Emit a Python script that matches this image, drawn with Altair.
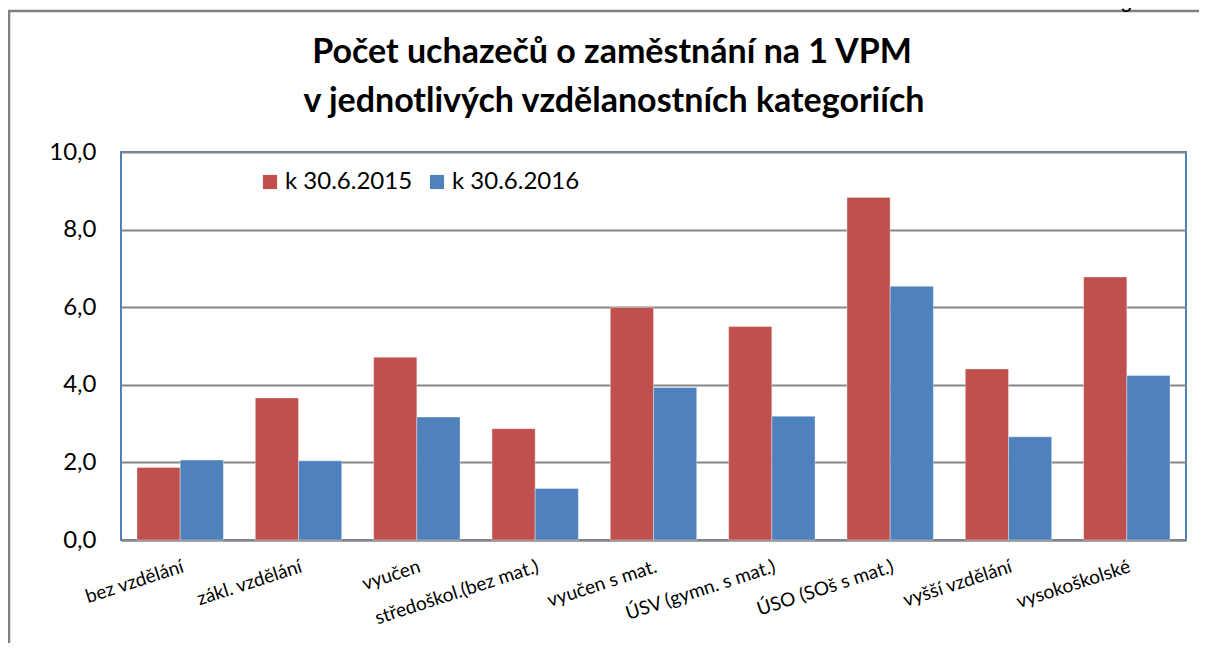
import altair as alt
import pandas as pd

categories = [
    "bez vzdělání",
    "zákl. vzdělání",
    "vyučen",
    "středoškol.(bez mat.)",
    "vyučen s mat.",
    "ÚSV (gymn. s mat.)",
    "ÚSO (SOš s mat.)",
    "vyšší vzdělání",
    "vysokoškolské",
]
series = ["k 30.6.2015", "k 30.6.2016"]
v2015 = [1.87, 3.66, 4.71, 2.87, 5.99, 5.50, 8.83, 4.41, 6.78]
v2016 = [2.06, 2.04, 3.17, 1.33, 3.93, 3.19, 6.54, 2.66, 4.24]
y_ticks = [0, 2, 4, 6, 8, 10]
title_line1 = "Počet uchazečů o zaměstnání na 1 VPM"
title_line2 = "v jednotlivých vzdělanostních kategoriích"
corner_note = "graf č. 17"

rows = []
for c, a, b in zip(categories, v2015, v2016):
    rows.append({"kat": c, "serie": series[0], "hodnota": a})
    rows.append({"kat": c, "serie": series[1], "hodnota": b})
df = pd.DataFrame(rows)

GREY = "#868686"
FONT = "Lato"
one = pd.DataFrame({"k": [0]})

frame_top = alt.Chart(one).mark_rule(color="#808080", strokeWidth=2.5).encode(
    x=alt.value(-113), x2=alt.value(1100), y=alt.value(-141)
)
frame_left = alt.Chart(one).mark_rule(color="#808080", strokeWidth=2.5).encode(
    x=alt.value(-112), y=alt.value(-142), y2=alt.value(520)
)

note = alt.Chart(pd.DataFrame({"t": [corner_note]})).mark_text(
    align="right", baseline="alphabetic", font="Arial", fontSize=22, color="black"
).encode(
    text="t:N", x=alt.value(1091), y=alt.value(-145)
)

title1 = alt.Chart(pd.DataFrame({"t": [title_line1]})).mark_text(
    align="center", baseline="middle", font=FONT, fontSize=34, fontWeight="bold", color="black"
).encode(text="t:N", x=alt.value(491), y=alt.value(-99))

title2 = alt.Chart(pd.DataFrame({"t": [title_line2]})).mark_text(
    align="center", baseline="middle", font=FONT, fontSize=34, fontWeight="bold", color="black"
).encode(text="t:N", x=alt.value(493), y=alt.value(-50))

bars = alt.Chart(df).mark_bar(stroke="white", strokeWidth=0.6, strokeOpacity=0.6).encode(
    x=alt.X(
        "kat:N",
        sort=categories,
        scale=alt.Scale(paddingInner=0.27, paddingOuter=0.135),
        axis=alt.Axis(
            title=None,
            labelAngle=-18,
            labelAlign="right",
            labelBaseline="top",
            labelFont=FONT,
            labelFontSize=19,
            labelColor="black",
            labelPadding=17,
            labelLimit=400,
            ticks=False,
            tickSize=0,
            domainColor=GREY,
            domainWidth=2,
        ),
    ),
    xOffset=alt.XOffset("serie:N", sort=series),
    y=alt.Y(
        "hodnota:Q",
        scale=alt.Scale(domain=[0, 10], nice=False),
        axis=alt.Axis(
            title=None,
            values=y_ticks,
            labelExpr="replace(format(datum.value, '.1f'), '.', ',')",
            labelFont=FONT,
            labelFontSize=24,
            labelColor="black",
            labelPadding=25,
            ticks=False,
            tickSize=0,
            domain=False,
            grid=True,
            gridColor=GREY,
            gridWidth=2,
        ),
    ),
    color=alt.Color(
        "serie:N",
        sort=series,
        scale=alt.Scale(domain=series, range=["#C0504D", "#4F81BD"]),
        legend=alt.Legend(
            title=None,
            orient="none",
            legendX=137,
            legendY=18,
            direction="horizontal",
            symbolType="square",
            symbolSize=200,
            symbolStrokeWidth=0,
            labelFont=FONT,
            labelFontSize=24,
            labelColor="black",
            labelOffset=3,
            columnPadding=12,
        ),
    ),
)

chart = alt.layer(frame_top, frame_left, note, title1, title2, bars).properties(
    width=1065,
    height=388,
    autosize="none",
    padding={"left": 113, "top": 144, "right": 13, "bottom": 103},
    background="white",
).configure_view(stroke="#4F81BD", strokeWidth=2)

chart.save("out.html", embed_options={"renderer": "svg", "actions": False})
